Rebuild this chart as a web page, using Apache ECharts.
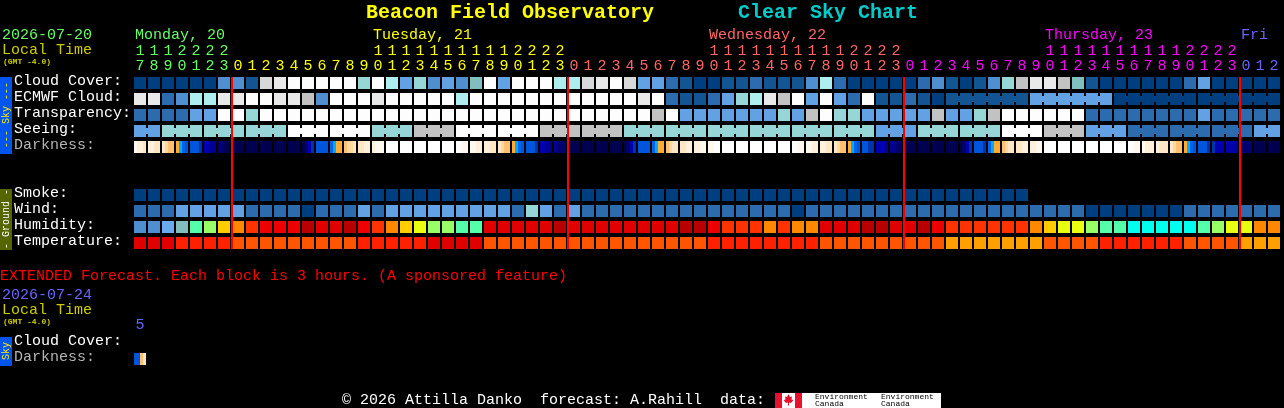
<!DOCTYPE html>
<html>
<head>
<meta charset="utf-8">
<style>html,body{margin:0;padding:0;background:#000}#c{width:1284px;height:408px}</style>
<script src="https://cdn.jsdelivr.net/npm/echarts@6/dist/echarts.min.js"></script>
</head>
<body>
<div id="c"></div>
<script>
// ---------- data ----------
const hourLabels = [
 '17','18','19','20','21','22','23',
 '0','1','2','3','4','5','6','7','8','9','10','11','12','13','14','15','16','17','18','19','20','21','22','23',
 '0','1','2','3','4','5','6','7','8','9','10','11','12','13','14','15','16','17','18','19','20','21','22','23',
 '0','1','2','3','4','5','6','7','8','9','10','11','12','13','14','15','16','17','18','19','20','21','22','23',
 '0','1','2'];
const dayLabels = ['Monday, 20','Tuesday, 21','Wednesday, 22','Thursday, 23','Fri'];
const dayLabelColumns = [0,17,41,65,79];
const dayStartColumns = [0,7,31,55,79];
const midnightColumns = [7,31,55,79];
const rowNames = ['Cloud Cover:','ECMWF Cloud:','Transparency:','Seeing:','Darkness:','','','Smoke:','Wind:','Humidity:','Temperature:'];
const extRowNames = ['Cloud Cover:','Darkness:'];
const extHours = ['5'];

const cloudCover = [
 0,0,0,0,0,0,3,3,1,9,
 10,11,11,11,11,11,6,11,7,4,
 6,3,4,3,5,11,4,11,11,11,
 7,7,9,10,11,9,4,4,2,1,
 0,0,1,1,2,1,1,1,3,7,
 2,0,0,0,0,0,2,3,1,0,
 1,3,6,8,10,10,8,5,1,0,
 0,0,0,0,0,2,4,0,0,0,
 0,0];
const ecmwfCloud = [
 10,10,2,3,7,7,10,10,11,11,
 10,10,8,3,11,11,11,10,11,11,
 11,11,11,7,11,11,11,11,11,11,
 11,11,11,11,11,11,10,11,2,1,
 1,2,4,6,7,10,8,11,4,11,
 4,2,11,1,1,2,1,0,1,1,
 1,1,1,1,4,4,4,4,4,4,
 0,0,0,0,0,0,0,0,0,0,
 0,0];
const transparency = [
 2,2,2,2,4,4,11,11,6,11,
 11,11,11,11,11,11,11,11,11,11,
 11,11,11,11,11,11,11,11,11,11,
 11,11,11,11,11,11,11,8,11,4,
 4,4,4,4,4,4,6,4,8,11,
 6,6,4,4,4,4,4,8,4,4,
 6,8,11,11,11,11,11,11,2,2,
 2,2,2,2,2,2,4,2,2,2,
 2,2];
const seeing = [
 4,4,6,6,6,6,6,6,6,6,
 6,11,11,11,11,11,11,6,6,6,
 8,8,8,11,11,11,11,11,11,8,
 8,8,8,8,8,6,6,6,6,6,
 6,6,6,6,6,6,6,6,6,6,
 6,6,6,4,4,4,6,6,6,6,
 6,6,11,11,11,8,8,8,4,4,
 4,2,2,2,2,2,2,2,2,2,
 4,4];
const smoke = [
 0,0,0,0,0,0,0,0,0,0,
 0,0,0,0,0,0,0,0,0,0,
 0,0,0,0,0,0,0,0,0,0,
 0,0,0,0,0,0,0,0,0,0,
 0,0,0,0,0,0,0,0,0,0,
 0,0,0,0,0,0,0,0,0,0,
 0,0,0,0,null,null,null,null,null,null,
 null,null,null,null,null,null,null,null,null,null,
 null,null];
const wind = [
 2,2,2,4,4,4,4,4,2,2,
 2,2,0,2,2,2,4,2,4,4,
 4,4,4,4,4,4,4,2,6,4,
 2,4,2,2,2,2,2,2,2,2,
 2,2,2,2,2,2,2,0,2,2,
 2,2,2,2,2,2,2,2,2,2,
 2,2,2,2,2,2,2,2,0,0,
 0,0,0,0,0,2,2,2,2,2,
 2,2];
const humidity = [
 0,0,1,2,3,4,6,7,8,9,
 9,9,11,10,10,11,9,8,7,6,
 5,4,4,3,3,10,10,10,10,10,
 11,10,10,10,10,10,10,10,10,11,
 11,9,8,8,8,7,8,7,7,10,
 10,10,11,11,10,10,11,9,8,8,
 8,8,8,8,7,6,5,5,4,3,
 3,12,12,12,12,12,3,4,5,5,
 7,7];
const temperature = [
 0,0,0,1,1,1,1,2,2,2,
 2,2,2,2,2,2,1,1,1,1,
 1,0,0,0,0,2,2,2,2,2,
 2,2,2,2,2,2,2,2,2,2,
 2,1,1,1,1,1,1,1,1,2,
 2,2,2,2,2,2,2,2,3,3,
 3,3,3,3,3,2,2,2,2,1,
 1,1,1,1,1,2,2,2,2,3,
 3,3];
const darkness = [
 [1,2,2,3],[2,2,3,3],[3,4,5,5],[6,7,8,9],[9,9,9,10],[11,11,12,12],[13,13,14,14],[14,14,14,14],[14,14,14,14],[14,14,14,14],
 [14,14,14,14],[14,14,14,14],[14,13,11,10],[9,9,9,9],[8,7,6,6],[5,4,4,3],[3,3,2,2],[2,1,1,1],[0,0,0,0],[0,0,0,0],
 [0,0,0,0],[0,0,0,0],[0,0,0,0],[0,0,1,1],[1,1,2,2],[2,2,3,3],[3,4,5,5],[6,7,8,9],[9,9,9,10],[11,11,12,12],
 [12,13,13,13],[14,14,14,14],[14,14,14,14],[14,14,14,14],[14,14,14,14],[14,13,11,10],[9,9,9,9],[8,7,6,6],[5,4,3,3],[3,3,2,2],
 [2,2,1,1],[1,1,0,0],[0,0,0,0],[0,0,0,0],[0,0,0,0],[0,0,0,0],[0,0,0,0],[0,0,1,1],[1,1,2,2],[2,2,3,3],
 [3,4,5,5],[6,7,8,9],[9,9,10,10],[11,11,11,12],[12,12,13,13],[14,14,14,14],[14,14,14,14],[14,14,14,14],[14,14,14,14],[14,13,11,10],
 [9,9,9,10],[8,7,6,6],[5,4,3,3],[3,3,2,2],[2,2,1,1],[0,0,0,0],[0,0,0,0],[0,0,0,0],[0,0,0,0],[0,0,0,0],
 [0,0,0,0],[0,0,1,1],[1,2,2,2],[2,3,3,3],[3,4,5,5],[6,7,8,9],[9,9,9,10],[10,11,11,11],[11,11,11,12],[13,13,13,13],
 [14,14,14,14],[14,14,14,14]];
const extDarkness = [[9,9,5,3]];
const seeingBlockStarts = [0,2,5,8,11,14,17,20,23,26,29,32,35,38,41,44,47,50,53,56,59,62,65,68,71,74,77,80];
const ecmwfBlockStarts = [58,64,70,76];

// ---------- styles ----------
const MONO = '"Liberation Mono", monospace';
const skyColors = ['#003f7f','#135593','#2c6cae','#4f8fd0','#62a2e4','#80bfbd','#96d6d6','#aeeeee','#c2c2c2','#d8d8d8','#e9e9e9','#fdfdfd'];
const humidityColors = ['#4f8fd0','#6aaaee','#80bfbd','#55ffaa','#99ff66','#e8ff10','#ffcc00','#ff8800','#ff3300','#ee0000','#e00000','#b80000','#00ffee'];
const temperatureColors = ['#e00000','#ff2000','#ff5500','#ffa000'];
const darknessColors = ['#ffffff','#fff8ee','#fff0dc','#ffe6c4','#ffd8a0','#ffc070','#ffaa33','#00aaff','#0066ee','#0055dd','#0033aa','#0000b0','#000090','#000070','#000050'];
const dayColors = ['#66ff66','#ffff00','#ff6666','#ff00ff','#6666ff'];
const DATE_COLOR = '#66ff66', LOCAL_COLOR = '#cccc00', EXT_COLOR = '#6666ff';

function colorOfColumn(i){
  let d = 0;
  for (let k = 0; k < dayStartColumns.length; k++) if (i >= dayStartColumns[k]) d = k;
  return dayColors[d];
}
function cellSeries(name, values, palette, row, blockStarts){
  const starts = blockStarts || [];
  const data = [];
  values.forEach((v, i) => {
    if (v === null) return;
    const joined = blockStarts && i + 1 < values.length && !starts.includes(i + 1) ? 1 : 0;
    data.push([i, row, v, joined]);
  });
  return {
    type: 'custom', name, data, silent: true, clip: false,
    encode: {x: 0, y: 1},
    renderItem(params, api){
      const c = api.coord([api.value(0), api.value(1)]);
      const b = api.size([1, 1]);
      const w = b[0] - 2, h = b[1] - 4;
      const fill = palette[api.value(2)];
      const children = [{type: 'rect', shape: {x: c[0] - w / 2, y: c[1] - h / 2, width: w, height: h}, style: {fill}}];
      if (api.value(3)) children.push({type: 'rect', shape: {x: c[0] + w / 2, y: c[1] - 3, width: 2, height: 6}, style: {fill}});
      return {type: 'group', children};
    }
  };
}
function darknessSeries(cells, row, xAxisIndex, yAxisIndex){
  return {
    type: 'custom', name: 'Darkness', silent: true, clip: false,
    xAxisIndex, yAxisIndex,
    data: cells.map((s, i) => [i, row, s[0], s[1], s[2], s[3]]),
    encode: {x: 0, y: 1},
    renderItem(params, api){
      const c = api.coord([api.value(0), api.value(1)]);
      const b = api.size([1, 1]);
      const w = b[0] - 2, h = b[1] - 4, sw = w / 4;
      const children = [];
      for (let k = 0; k < 4; k++) children.push({type: 'rect',
        shape: {x: c[0] - w / 2 + k * sw, y: c[1] - h / 2, width: sw, height: h},
        style: {fill: darknessColors[api.value(2 + k)]}});
      return {type: 'group', children};
    }
  };
}
function txt(text, x, y, fill, font, extra){
  return Object.assign({type: 'text', x, y, silent: true, z: 20,
    style: {text, fill, font: font || ('15px ' + MONO), align: 'left', verticalAlign: 'middle'}}, extra || {});
}
function rect(x, y, width, height, fill){
  return {type: 'rect', silent: true, z: 10, shape: {x, y, width, height}, style: {fill}};
}
function vtxt(text, x, y, fill){
  const t = txt(text, x, y, fill, '10px ' + MONO, {rotation: Math.PI / 2});
  t.style.align = 'center';
  return t;
}
const axisOff = {axisLine: {show: false}, axisTick: {show: false}, splitLine: {show: false}};
const rowLabel = {interval: 0, align: 'left', margin: 119, fontFamily: MONO, fontSize: 15, verticalAlign: 'bottom', lineHeight: 4,
  color: (v) => v === 'Darkness:' ? '#b4b4b4' : '#ffffff'};
const chart = echarts.init(document.getElementById('c'), null, {width: 1284, height: 408});
chart.setOption({
  animation: false,
  backgroundColor: '#000',
  title: [
    {text: 'Beacon Field Observatory', left: 366, top: 3, padding: 0, textStyle: {color: '#ffff00', fontFamily: MONO, fontWeight: 'bold', fontSize: 20}},
    {text: 'Clear Sky Chart', left: 738, top: 3, padding: 0, textStyle: {color: '#00cccc', fontFamily: MONO, fontWeight: 'bold', fontSize: 20}}
  ],
  grid: [
    {left: 133, top: 75, width: 1148, height: 176},
    {left: 133, top: 335, width: 14, height: 32}
  ],
  xAxis: [
    Object.assign({type: 'category', gridIndex: 0, position: 'top', data: hourLabels,
      axisLabel: {interval: 0, margin: 1, fontFamily: MONO, fontSize: 15, lineHeight: 15, hideOverlap: false,
        formatter: v => v.length > 1 ? v[0] + '\n' + v[1] : v,
        color: (v, i) => colorOfColumn(i)}}, axisOff),
    Object.assign({type: 'category', gridIndex: 1, position: 'top', data: extHours,
      axisLabel: {interval: 0, margin: 2, fontFamily: MONO, fontSize: 15, lineHeight: 15, color: EXT_COLOR}}, axisOff)
  ],
  yAxis: [
    Object.assign({type: 'category', gridIndex: 0, inverse: true, data: rowNames, axisLabel: rowLabel}, axisOff),
    Object.assign({type: 'category', gridIndex: 1, inverse: true, data: extRowNames, axisLabel: rowLabel}, axisOff)
  ],
  series: [
    cellSeries('Cloud Cover', cloudCover, skyColors, 0),
    cellSeries('ECMWF Cloud', ecmwfCloud, skyColors, 1, [...hourLabels.keys()].filter(i => i < ecmwfBlockStarts[0] || ecmwfBlockStarts.includes(i))),
    cellSeries('Transparency', transparency, skyColors, 2),
    cellSeries('Seeing', seeing, skyColors, 3, seeingBlockStarts),
    darknessSeries(darkness, 4, 0, 0),
    cellSeries('Smoke', smoke, skyColors, 7),
    cellSeries('Wind', wind, skyColors, 8),
    cellSeries('Humidity', humidity, humidityColors, 9),
    cellSeries('Temperature', temperature, temperatureColors, 10),
    darknessSeries(extDarkness, 1, 1, 1),
    { // midnight rules
      type: 'custom', name: 'Midnight', silent: true, clip: false, z: 5,
      data: midnightColumns.map(c => [c, 0]), encode: {x: 0, y: 1},
      renderItem(params, api){
        const top = api.coord([api.value(0), 0]);
        const bot = api.coord([api.value(0), 10]);
        const b = api.size([1, 1]);
        const y0 = top[1] - (b[1] - 4) / 2, y1 = bot[1] + (b[1] - 4) / 2;
        return {type: 'rect', shape: {x: top[0] - b[0] / 2, y: y0, width: 2, height: y1 - y0}, style: {fill: '#ff0000'}};
      }
    },
    { // day names sit above their first labelled column
      type: 'custom', name: 'Days', silent: true, clip: false,
      data: dayLabelColumns.map((c, i) => [c, 0, i]), encode: {x: 0, y: 1},
      renderItem(params, api){
        const p = api.coord([api.value(0), 0]);
        const i = api.value(2);
        return {type: 'text', x: p[0] - 5, y: p[1] - 48,
          style: {text: dayLabels[i], fill: dayColors[i], font: '15px ' + MONO, verticalAlign: 'middle', align: 'left'}};
      }
    }
  ],
  graphic: {elements: [
    txt('2026-07-20', 2, 35, DATE_COLOR),
    txt('Local Time', 2, 50, LOCAL_COLOR),
    txt('(GMT -4.0)', 3, 62, LOCAL_COLOR, 'bold 8px ' + MONO),
    txt('EXTENDED Forecast. Each block is 3 hours. (A sponsored feature)', 0, 276, '#ff0000'),
    txt('2026-07-24', 2, 295, EXT_COLOR),
    txt('Local Time', 2, 310, LOCAL_COLOR),
    txt('(GMT -4.0)', 3, 322, LOCAL_COLOR, 'bold 8px ' + MONO),
    rect(0, 77, 12, 77, '#0055ee'),
    vtxt('--- Sky ---', 6, 115, '#ffee00'),
    rect(0, 189, 12, 61, '#556600'),
    vtxt('- Ground -', 6, 219, '#ffffff'),
    rect(0, 337, 12, 29, '#0055ee'),
    vtxt('Sky', 6, 351, '#ffee00'),
    txt('\u00a9 2026 Attilla Danko  forecast: A.Rahill  data:', 342, 400, '#ffffff'),
    rect(775, 393, 166, 15, '#ffffff'),
    rect(775, 393, 7, 15, '#e8112d'),
    rect(795, 393, 7, 15, '#e8112d'),
    {type: 'polygon', silent: true, z: 15, shape: {points: [[788.5,394],[790,397],[792,396.5],[791.5,399.5],[793.5,400],[791,403],[789,402.5],[789,405.5],[788,405.5],[788,402.5],[786,403],[783.5,400],[785.5,399.5],[785,396.5],[787,397]]}, style: {fill: '#e8112d'}},
    txt('Environment', 815, 397, '#000000', '8px ' + MONO),
    txt('Canada', 815, 404, '#000000', '8px ' + MONO),
    txt('Environment', 881, 397, '#000000', '8px ' + MONO),
    txt('Canada', 881, 404, '#000000', '8px ' + MONO)
  ]}
});
</script>
</body>
</html>
